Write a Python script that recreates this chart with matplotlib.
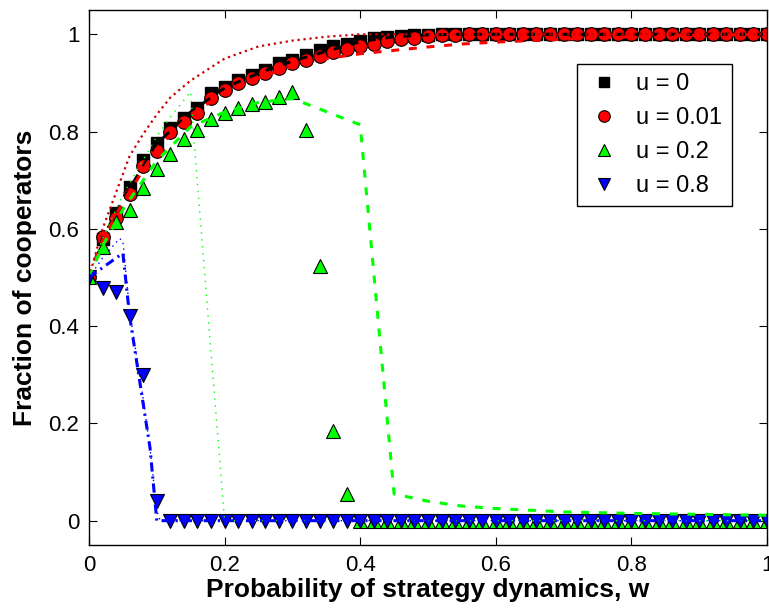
import numpy as np
import matplotlib
matplotlib.use('Agg')
import matplotlib.pyplot as plt

plt.rcParams['font.family'] = ['Liberation Sans', 'DejaVu Sans']

# simulation points, w = 0, 0.02, ..., 1
w = np.linspace(0, 1, 51)
u0 = [0.50, 0.58, 0.633, 0.687, 0.742, 0.776, 0.807, 0.827, 0.848, 0.879,
      0.892, 0.906, 0.916, 0.927, 0.94, 0.947, 0.957, 0.968, 0.975, 0.981,
      0.987, 0.992, 0.995, 0.997, 0.998, 0.999] + [1.0] * 25
u001 = [0.50, 0.583, 0.622, 0.672, 0.73, 0.76, 0.80, 0.819, 0.839, 0.87,
        0.885, 0.90, 0.91, 0.921, 0.93, 0.94, 0.947, 0.956, 0.964, 0.969,
        0.976, 0.98, 0.986, 0.99, 0.993, 0.996, 0.998, 0.999] + [1.0] * 23
u02 = [0.50, 0.563, 0.615, 0.639, 0.683, 0.724, 0.754, 0.784, 0.803, 0.825,
       0.839, 0.848, 0.857, 0.861, 0.872, 0.882, 0.803, 0.524, 0.185, 0.055] + [0.0] * 31
u08 = [0.50, 0.478, 0.471, 0.42, 0.30, 0.041] + [0.0] * 45

# theory curves
wk_dash = [0, 0.02, 0.05, 0.1, 0.15, 0.2, 0.25, 0.3, 0.35, 0.4, 0.45, 0.5, 0.55, 0.6, 0.7, 0.8, 0.9, 1.0]
k_dash = [0.5, 0.58, 0.66, 0.775, 0.84, 0.89, 0.92, 0.945, 0.965, 0.985, 0.995, 0.999, 1, 1, 1, 1, 1, 1]
r_dash = [0.5, 0.575, 0.655, 0.765, 0.835, 0.88, 0.91, 0.935, 0.95, 0.96, 0.967, 0.974, 0.98, 0.984, 0.99, 0.995, 0.998, 1.0]

wr_dot = [0, 0.02, 0.04, 0.06, 0.08, 0.1, 0.12, 0.15, 0.2, 0.25, 0.3, 0.35, 0.4, 0.5, 1.0]
r_dot = [0.5, 0.6, 0.675, 0.75, 0.795, 0.835, 0.87, 0.905, 0.95, 0.975, 0.987, 0.995, 1.0, 1.0, 1.0]

wg_dash = [0, 0.02, 0.05, 0.1, 0.15, 0.2, 0.25, 0.3, 0.4, 0.45, 0.5, 0.55, 0.6, 0.7, 0.8, 0.9, 1.0]
g_dash = [0.5, 0.565, 0.64, 0.74, 0.81, 0.84, 0.86, 0.868, 0.814, 0.055, 0.04, 0.03, 0.025, 0.018, 0.015, 0.013, 0.011]

wg_dot = [0, 0.02, 0.05, 0.1, 0.12, 0.15, 0.155, 0.2, 1.0]
g_dot = [0.5, 0.58, 0.67, 0.79, 0.83, 0.882, 0.78, 0.0, 0.0]

wb_dd = [0, 0.025, 0.05, 0.06, 0.07, 0.08, 0.09, 0.1, 1.0]
b_dd = [0.5, 0.525, 0.55, 0.42, 0.33, 0.24, 0.15, 0.0, 0.0]

wb_dot = [0, 0.02, 0.045, 0.05, 0.06, 0.07, 0.08, 0.09, 0.1, 0.105, 1.0]
b_dot = [0.5, 0.54, 0.58, 0.575, 0.43, 0.34, 0.25, 0.15, 0.02, 0.0, 0.0]

fig = plt.figure(figsize=(7.69, 6.12), dpi=100)
ax = fig.add_axes([0.1157, 0.1095, 0.8817, 0.8742])

ax.plot(w, u0, 's', color='k', mec='k', ms=8.6, ls='none', label='u = 0')
ax.plot(w, u001, 'o', color='r', mec='k', mew=0.8, ms=9.8, ls='none', label='u = 0.01')
ax.plot(w, u02, '^', color=(0, 1, 0), mec='k', mew=0.8, ms=10, ls='none', label='u = 0.2')
ax.plot(w, u08, 'v', color=(0, 0, 1), mec='k', mew=0.8, ms=10, ls='none', label='u = 0.8')

ax.plot(wk_dash, k_dash, color='k', lw=2.2, ls=(0, (2.6, 3.2)))
ax.plot(wr_dot, r_dot, color=(0.8, 0, 0), lw=1.6, ls=(0, (1, 1.7)))
ax.plot(wk_dash, r_dash, color='r', lw=2.2, ls=(0, (2.6, 3.2)))
ax.plot(wg_dot, g_dot, color=(0, 1, 0), lw=1.0, ls=(0, (1, 4)))
ax.plot(wg_dash, g_dash, color=(0, 1, 0), lw=2.2, ls=(0, (2.6, 3.2)))
ax.plot(wb_dot, b_dot, color=(0, 0, 1), lw=1.0, ls=(0, (1, 3)))
ax.plot(wb_dd, b_dd, color=(0, 0, 1), lw=2.2, ls=(0, (3, 1.6, 0.7, 1.6)))

ax.set_xlim(0, 1)
ax.set_ylim(-0.05, 1.05)
ax.set_xticks([0, 0.2, 0.4, 0.6, 0.8, 1])
ax.set_xticklabels(['0', '0.2', '0.4', '0.6', '0.8', '1'])
ax.set_yticks([0, 0.2, 0.4, 0.6, 0.8, 1])
ax.set_yticklabels(['0', '0.2', '0.4', '0.6', '0.8', '1'])
ax.tick_params(direction='in', top=True, right=True, length=6, width=0.8, labelsize=16, pad=7)
for s in ax.spines.values():
    s.set_linewidth(1.0)

ax.set_xlabel('Probability of strategy dynamics, w', fontsize=19, fontweight='bold', labelpad=2)
ax.set_ylabel('Fraction of cooperators', fontsize=19, fontweight='bold', labelpad=8)

leg = ax.legend(loc='upper right', bbox_to_anchor=(0.948, 0.899), fontsize=17, fancybox=False,
                framealpha=1, edgecolor='k', labelspacing=0.5, handletextpad=0.6,
                borderpad=0.4, handlelength=1.5, borderaxespad=0, markerscale=0.85)
leg.get_frame().set_linewidth(1.0)

fig.savefig('out.png', dpi=100)
